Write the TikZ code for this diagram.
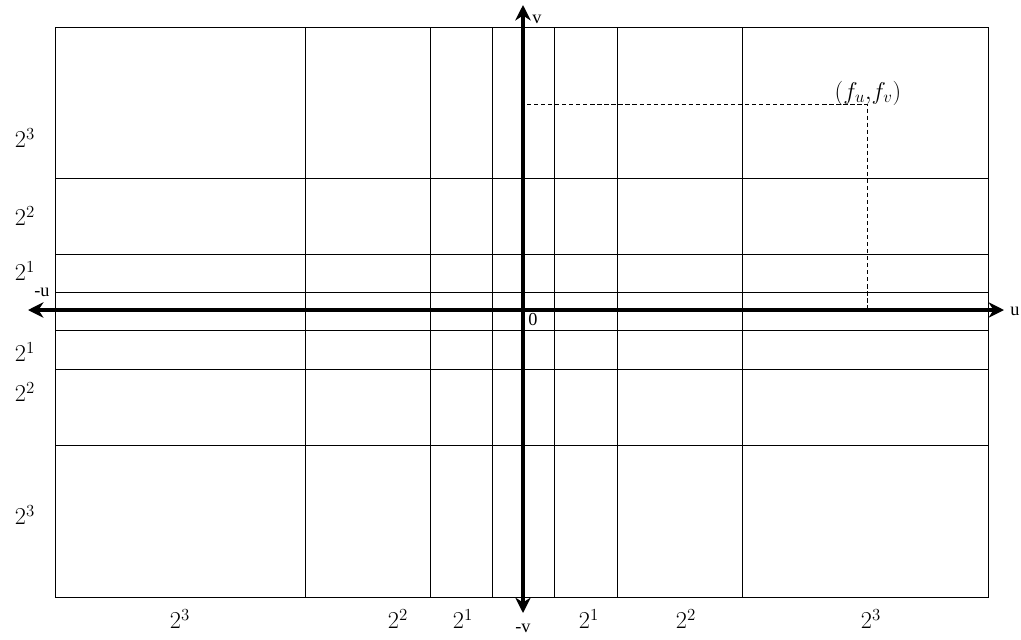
\documentclass[tikz,border=0pt]{standalone}
\usepackage{fontspec}
\setmainfont{Liberation Serif}
\usetikzlibrary{arrows.meta}

\begin{document}
\begin{tikzpicture}[x=0.025cm, y=-0.025cm,
  grid/.style={line width=0.7pt},
  axis/.style={line width=2.8pt, {Stealth[length=11pt, width=11pt]}-{Stealth[length=11pt, width=11pt]}},
  band/.style={font=\fontsize{17}{19}\selectfont, inner sep=0pt},
  axlab/.style={font=\fontsize{13}{15}\selectfont, inner sep=0pt}
]
  \useasboundingbox (0,0) rectangle (1021,639);
  % frame and octave bands
  \draw[grid] (55,27) rectangle (988,597);
  \foreach \x in {305,430,492,554,617,742}
    \draw[grid] (\x,27) -- (\x,597);
  \foreach \y in {178,254,292,330,369,445}
    \draw[grid] (55,\y) -- (988,\y);
  % axes
  \coordinate (uneg) at (28,310);
  \coordinate (upos) at (1004,310);
  \coordinate (vpos) at (523,5);
  \coordinate (vneg) at (523,613);
  \draw[axis] (uneg) -- (upos);
  \draw[axis] (vneg) -- (vpos);
  \node[axlab, anchor=west] (ulab) at (1010,311) {u};
  \node[axlab] (mulab) at (42,292) {-u};
  \node[axlab] (vlab) at (537,19) {v};
  \node[axlab] (mvlab) at (523,628) {-v};
  \node[axlab] (orig) at (533,320) {0};
  % sample frequency
  \coordinate (fv) at (527,104);
  \coordinate (fuv) at (867,104);
  \coordinate (fu) at (867,310);
  \draw[grid, dashed, dash pattern=on 3pt off 2pt] (fv) -- (fuv) -- (fu);
  \node[band, anchor=base] (pt) at (868,99) {$(f_u{,}f_v)$};
  % band labels
  \foreach \y/\e [count=\i] in {138/3,216/2,271/1,352/1,392/2,515/3}
    \node[band] (row\i) at (25,\y) {$2^{\e}$};
  \foreach \x/\e [count=\i] in {180/3,398/2,463/1,589/1,686/2,871/3}
    \node[band] (col\i) at (\x,619) {$2^{\e}$};
\end{tikzpicture}
\end{document}
